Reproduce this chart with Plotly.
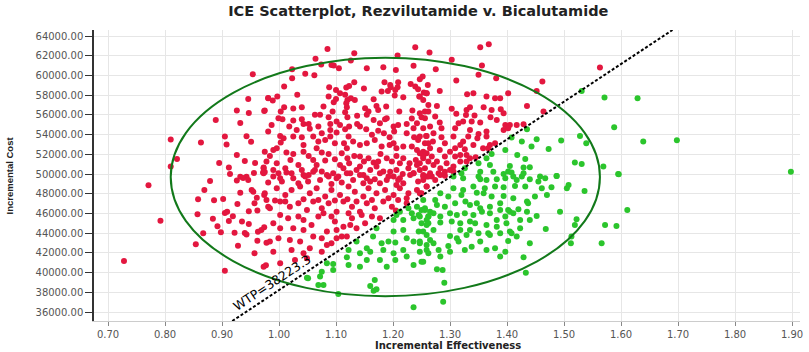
import plotly.graph_objects as go

WTP = 38223.3

red_x = [
0.954,0.946,0.926,0.947,0.974,0.981,0.889,0.932,0.810,0.863,0.905,0.908,0.943,0.951,0.926,0.821,0.810,0.895,0.912,0.940,
0.958,0.973,0.975,0.914,0.932,0.943,0.956,
0.771,0.792,0.728,0.879,0.869,0.858,0.886,0.902,0.857,0.884,0.867,0.854,0.892,0.898,0.905,0.909,0.912,0.919,0.927,0.932,
0.922,0.928,0.905,0.935,0.940,0.943,0.947,0.947,0.957,0.961,0.957,0.962,0.963,0.969,0.974,0.962,0.977,0.978,0.926,0.937,
0.946,0.952,0.955,0.974,0.978,0.981,0.972,
1.085,1.132,1.239,1.208,1.064,1.074,1.092,1.096,1.105,1.126,1.154,1.183,1.205,1.236,1.023,1.023,1.046,1.062,1.132,1.185,
1.195,1.209,1.231,1.247,1.252,1.009,1.088,1.100,1.107,1.118,1.123,1.149,1.180,1.191,1.196,1.204,1.208,1.203,1.218,1.239,
1.244,1.254,1.246,1.259,0.981,0.989,0.997,1.032,1.087,1.100,1.116,1.120,1.126,1.133,1.118,1.166,0.975,1.009,1.003,1.025,
1.040,1.078,1.096,1.094,1.119,1.116,1.151,1.157,1.154,1.171,1.174,1.188,1.186,1.211,1.234,1.250,1.233,1.256,1.262,0.999,
1.006,1.025,1.040,1.043,1.063,1.072,1.087,1.090,1.101,1.120,1.137,1.137,1.142,1.166,1.177,1.201,1.209,1.202,1.224,1.236,
1.242,0.987,0.981,1.018,1.031,1.052,1.054,1.069,1.075,1.090,1.101,1.116,1.123,1.153,1.163,1.174,1.184,1.194,1.224,1.237,
1.244,1.258,1.262,1.002,1.008,1.003,0.996,0.990,1.025,1.040,1.043,1.060,1.069,1.081,1.090,1.098,1.122,1.114,1.130,1.142,
1.154,1.168,1.194,1.201,1.206,1.233,1.242,1.253,0.975,0.984,0.978,1.013,1.025,1.020,1.043,1.052,1.060,1.075,1.087,1.081,
1.098,1.110,1.120,1.132,1.123,1.142,1.149,1.157,1.166,1.178,1.189,1.198,1.206,1.218,1.229,1.240,1.253,1.262,0.973,0.990,
0.999,1.011,1.022,1.040,1.052,1.063,1.075,1.087,1.095,1.113,1.125,1.136,1.148,1.160,1.171,1.183,1.192,1.206,1.217,1.227,
1.236,1.247,1.259,
1.353,1.368,1.264,1.303,1.356,1.275,1.311,1.350,1.381,1.462,1.452,1.402,1.261,1.282,1.259,1.247,1.253,1.330,1.341,1.364,
1.379,1.388,1.247,1.262,1.277,1.256,1.303,1.311,1.329,1.335,1.328,1.343,1.359,1.373,1.389,1.394,1.371,1.435,1.464,1.282,
1.265,1.253,1.285,1.323,1.338,1.353,1.335,1.309,1.306,1.364,1.397,1.405,1.417,1.429,1.394,1.402,1.247,1.259,1.271,1.256,
1.270,1.285,1.323,1.332,1.350,1.348,1.364,1.370,1.379,1.367,1.318,1.309,1.326,1.300,1.247,1.259,1.253,1.268,1.282,1.291,
1.309,1.318,1.329,1.335,1.345,1.247,1.256,1.271,1.283,1.294,1.306,1.318,1.253,1.268,1.280,1.291,1.306,1.563,
0.973,0.990,1.013,1.025,1.043,1.060,1.072,1.084,1.101,1.119,1.130,1.142,1.160,1.177,1.189,1.201,1.218,1.236,1.253,
0.975,0.996,1.011,1.022,1.037,1.054,1.066,1.081,1.092,1.107,1.122,1.133,1.148,1.157,1.171,1.186,1.201,1.212,1.227,1.242,1.259,
0.984,1.002,1.019,1.034,1.049,1.060,1.075,1.087,1.101,1.113,1.128,1.142,1.154,1.168,1.183,1.198,1.205,1.224,
0.990,1.016,1.025,1.043,1.057,1.069,1.084,1.098,1.113,1.128,1.136,1.151,1.163,1.177,
0.984,1.019,1.022,1.060,1.054,1.084,1.101,1.119,1.028,1.002,0.973,1.043,1.075,
1.195,1.206,1.230,1.247,1.262,1.177,1.224,
1.253,1.265,1.259,1.274,1.283,1.250,1.291,
0.981,1.005,1.034,1.051,1.092,1.110,1.148,1.168,1.209,1.244,
0.993,1.011,1.043,1.069,1.098,1.120,1.136,1.163,1.192,1.209,
1.002,1.034,1.078,1.092,1.122,1.145,1.002,1.043,1.101,1.125,
0.999,1.037,1.075,1.092,1.110,0.990,1.049,
0.996,1.034,1.066,1.107,1.142,1.174,1.212,1.242,1.002,1.046,1.104,1.154,1.212,1.066,1.119,1.180,1.218,1.107,1.189,
1.277,1.300,1.329,1.265,1.291,1.341,1.358,1.274,1.315,1.382,
]
red_y = [
60130,57620,56430,56200,56400,57720,55490,55180,53490,53190,53800,52990,53830,53260,51940,51530,50750,51120,50650,51330,
51120,50650,50200,50000,49730,49730,50110,
48860,45270,41180,49300,48380,47440,47340,47470,45920,45470,43990,42870,44700,44090,46050,46180,45240,45710,46960,48110,
44050,42730,40190,45170,44020,43850,46220,44930,47030,47600,41950,43240,44150,44320,44600,46290,40740,43030,49330,49600,
49400,48380,48210,47880,47370,46690,50140,
62690,62255,62860,62020,61680,61100,61070,61000,60730,61510,60730,60830,60560,60970,60630,59720,60160,60020,59310,59310,
59040,59310,59140,59620,59890,58870,58800,58530,58200,58770,58940,58670,58360,58430,58800,58530,58800,57960,57790,58870,
58600,58260,57860,58200,57690,57450,57860,58030,57860,57620,58030,57520,57690,57520,57180,57590,56440,56770,56340,56640,
56770,56840,57280,56340,56770,56270,56670,56340,56000,56910,56500,56840,55560,56340,56440,55760,55630,56340,57010,55660,
55560,55420,55560,55080,56000,56000,55760,55080,55320,55760,55900,55080,54810,55490,55150,54810,54980,54300,55080,54640,
55150,54980,54300,54810,54470,55080,54580,54810,54140,54470,54200,54540,54810,54540,53970,54400,54140,53730,54140,53730,
53460,53860,53120,53860,53630,53190,52610,52440,53800,53730,52950,53800,53290,53460,53800,53120,53800,53120,53290,52950,
53120,53460,52950,53120,52610,52780,52440,52270,52270,51830,51260,52170,52040,51430,52270,51830,51430,52170,52040,51360,
51500,52100,51600,51830,51090,51770,51260,51600,51160,52040,51600,51260,51830,51600,51090,51430,51770,51260,50580,50410,
50080,50580,50080,50410,49910,50410,50250,49740,50080,50580,50080,50410,49910,50410,50750,50250,49740,50410,50010,50580,
50080,50410,49740,
62860,63170,62320,61580,61000,60630,59480,60060,59720,59380,58430,58200,59040,58430,58200,57860,57520,58090,58200,57860,
57690,57690,56170,56340,56910,55660,56610,56100,56500,56770,55990,55930,56770,56500,56570,56170,55760,56910,56340,55220,
54810,54640,54640,55320,55320,55220,54470,54640,53800,54300,54980,54980,54980,55050,54470,54640,53800,53860,54140,53120,
53290,53730,53290,53800,54070,53630,53800,52950,53120,52610,52950,52610,52510,52270,52100,52100,51600,51770,52440,51770,
51770,51940,51940,51600,51700,51090,50580,50920,50580,51090,50750,51260,49910,49740,50080,49810,50250,60800,
50070,49740,50140,49570,49910,50240,49400,49910,49570,50070,49400,49910,49230,50070,49400,49740,49060,50070,49400,
48040,48550,47880,48380,48720,48040,48550,47710,48380,47880,48720,48210,47710,48550,48040,48380,47880,48550,48040,48380,48720,
46520,47200,46690,47030,46350,47200,46520,47030,46180,47200,46690,46180,47030,46520,47200,46690,46300,47030,
45000,45510,44490,45340,44830,45680,44160,45170,44660,45510,44490,45000,45680,45510,
43140,43310,42290,43650,42460,42800,43480,43650,41280,40940,40600,41960,42120,
50240,48890,49910,48040,49740,49060,47540,
49740,50070,48720,49400,49900,48040,50240,
49130,49230,49060,49230,48990,49130,49060,49460,49400,49230,
47300,47200,47440,47370,47300,47440,47200,47370,47540,47370,
45846,45680,46010,45680,46010,45846,44490,44320,44320,44830,
43480,43140,43480,42970,43650,42120,41450,
51090,50920,50920,50920,50750,51260,51090,50920,49570,49740,49740,49570,49570,52610,52610,52780,52780,54980,55660,
51260,50410,51260,52610,53120,52950,52610,55830,55150,55490,
]

green_x = [
1.531,1.571,1.588,1.528,1.539,1.495,1.473,1.452,1.443,1.426,1.408,1.435,1.519,1.531,1.569,1.595,1.487,1.432,1.418,1.397,
1.373,1.364,1.370,1.350,1.326,1.320,1.405,1.429,1.440,1.394,1.411,1.426,1.458,1.350,1.402,
1.212,1.227,1.242,1.256,1.262,1.201,1.218,1.236,1.250,1.206,1.259,1.233,1.245,
1.171,1.192,1.204,1.224,1.236,1.247,1.259,1.165,1.180,1.183,1.177,1.154,1.154,1.136,1.122,1.119,1.122,1.142,1.201,1.204,
1.218,1.236,1.253,1.084,1.075,1.072,1.069,1.078,1.051,1.168,1.160,1.171,1.166,1.104,1.236,1.095,1.049,
1.353,1.376,1.408,1.429,1.306,1.323,1.353,1.364,1.382,1.397,1.417,1.440,1.455,1.467,1.487,
1.341,1.361,1.379,1.394,1.414,1.432,1.461,1.478,1.505,1.536,1.508,
1.253,1.274,1.297,1.320,1.347,1.359,1.373,1.394,1.411,1.435,1.449,1.470,
1.277,1.256,1.265,1.247,1.262,
1.309,1.327,1.335,1.347,1.353,1.370,1.388,1.402,1.420,1.437,1.435,
1.300,1.312,1.326,1.341,1.356,1.370,1.382,1.397,1.405,1.452,1.493,
1.262,1.283,1.303,1.318,1.335,1.344,1.364,1.399,1.405,1.367,1.350,
1.522,1.519,1.468,1.572,1.592,
1.300,1.312,1.329,1.353,1.370,1.388,1.402,1.417,1.408,
1.247,1.265,1.271,1.259,1.280,1.297,1.300,1.283,1.262,
1.326,1.379,1.397,1.429,1.433,1.513,1.512,1.566,
1.250,1.277,1.287,1.290,1.288,
1.898,1.596,1.611,1.629,1.639,1.698,
1.250,1.271,1.259,1.283,1.291,1.271,1.253,1.318,1.335,1.382,1.423,1.440,1.423,1.323,1.306,1.283,1.411,1.388,
1.315,1.338,1.364,1.440,1.388,
1.201,1.218,1.245,1.259,1.160,1.224,1.247,1.189,1.142,1.095,
]
green_y = [
58430,57760,54740,53860,53120,53390,52540,53530,52780,53290,53700,54540,51160,51020,50750,50010,49800,51530,51940,52440,
52040,51600,50920,51090,50580,50080,50820,50650,50680,50010,49740,49740,49740,49740,50250,
46180,46520,46690,46350,45680,45340,45340,45510,45000,45850,44830,46010,45850,
44490,43140,43040,43480,43140,42970,42800,43650,42970,42290,41280,42460,41280,43140,42290,41550,40770,41960,41960,41280,
42290,40770,41110,40940,40090,39590,38740,38740,39420,39250,38640,38300,38160,37830,36470,40870,39480,
50240,50240,50140,50070,49740,49570,49470,49400,49470,49570,49400,49470,49230,49570,49800,
48720,48550,48720,48650,48790,48720,48550,48650,48550,48280,48890,
47370,47370,47710,47880,48110,48040,47710,47770,47540,47200,47710,47880,
46860,46520,46180,45680,45680,
47030,47200,46860,47030,46520,46690,46350,46350,46420,47030,46180,
46010,45850,46010,45850,46180,46010,45340,45680,46180,45740,46180,
45000,45070,45170,45000,45170,45000,44830,45000,44160,43980,43980,
45410,44830,44420,44830,44730,
43710,43480,43820,43140,43820,43980,43210,43650,43980,
43140,43310,42970,42290,42290,42700,42120,41620,41950,
42290,42460,42120,41550,39990,43650,42970,42970,
41110,40330,40260,38980,37050,
50240,49980,46350,57690,53290,53430,
46350,46010,45340,45680,46690,44320,44160,44320,44320,44660,45340,45340,44490,48380,48550,48040,46010,47030,
43140,42630,42290,42970,41620,
44160,44320,44160,43820,42120,41620,42120,40600,40600,40260,
]

x_ticks = [0.7, 0.8, 0.9, 1.0, 1.1, 1.2, 1.3, 1.4, 1.5, 1.6, 1.7, 1.8, 1.9]
y_ticks = [36000, 38000, 40000, 42000, 44000, 46000, 48000, 50000,
           52000, 54000, 56000, 58000, 60000, 62000, 64000]

ell_x = [0.810, 1.563]
ell_y = [37600, 61800]

x_range = [0.6754, 1.914]
y_range = [35087, 64609]

wtp_x = [y_range[0] / WTP, y_range[1] / WTP]
wtp_y = [WTP * v for v in wtp_x]

FONT = "DejaVu Sans, Verdana, sans-serif"

fig = go.Figure()
fig.add_trace(go.Scatter(x=red_x, y=red_y, mode="markers",
                         marker=dict(color="#E3173F", size=6), showlegend=False))
fig.add_trace(go.Scatter(x=green_x, y=green_y, mode="markers",
                         marker=dict(color="#2BC52C", size=6), showlegend=False))
fig.add_trace(go.Scatter(x=wtp_x, y=wtp_y, mode="lines",
                         line=dict(color="black", width=2, dash="3px,2px"),
                         showlegend=False, hoverinfo="skip"))

fig.add_shape(type="circle", xref="x", yref="y",
              x0=ell_x[0], x1=ell_x[1], y0=ell_y[0], y1=ell_y[1],
              line=dict(color="#12791A", width=2))

fig.add_annotation(x=0.988, y=39000, text="WTP=38223.3",
                   showarrow=False, textangle=-33.5,
                   font=dict(family=FONT, size=12.5, color="black"))

fig.add_annotation(xref="paper", yref="paper", x=-0.119, y=0.5,
                   text="<b>Incremental Cost</b>", showarrow=False, textangle=-90,
                   xanchor="center", yanchor="middle",
                   font=dict(family="Liberation Sans Narrow, Liberation Sans, Arial", size=9.5, color="#222"))
fig.add_annotation(xref="paper", yref="paper", x=0.501, y=-0.0825,
                   text="<b>Incremental Effectiveness</b>", showarrow=False,
                   xanchor="center", yanchor="middle",
                   font=dict(family=FONT, size=10, color="#222"))

fig.update_layout(
    width=809, height=352,
    margin=dict(l=94, r=9, t=30, b=31, autoexpand=False),
    paper_bgcolor="white", plot_bgcolor="white",
    title=dict(text="<b>ICE Scatterplot, Rezvilutamide v. Bicalutamide</b>",
               xref="container", x=0.517, xanchor="center",
               yref="container", y=0.969, yanchor="middle",
               font=dict(family=FONT, size=14.5, color="#222")),
    xaxis=dict(range=x_range, tickvals=x_ticks, tickformat=".2f", automargin=False,
               showgrid=True, gridcolor="#e6e6e6", gridwidth=1,
               showline=True, linecolor="#cccccc", linewidth=1,
               ticks="outside", ticklen=4, tickcolor="#888",
               zeroline=False,
               tickfont=dict(family=FONT, size=10, color="#555")),
    yaxis=dict(range=y_range, tickvals=y_ticks, tickformat=".2f", automargin=False,
               showgrid=True, gridcolor="#e6e6e6", gridwidth=1,
               showline=True, linecolor="#333", linewidth=1.5,
               ticks="outside", ticklen=7, tickcolor="#333",
               zeroline=False,
               tickfont=dict(family=FONT, size=10, color="#555")),
)

fig.write_html("out.html", config={"displayModeBar": False},
               post_script="document.body.style.margin='0px';document.body.style.overflow='hidden';")
